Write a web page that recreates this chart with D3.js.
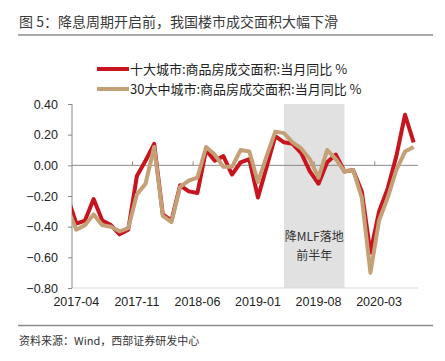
<!DOCTYPE html>
<html>
<head>
<meta charset="utf-8">
<script src="https://cdn.jsdelivr.net/npm/d3@7"></script>
<style>
  body { margin: 0; background: #fff; }
  svg { display: block; }
</style>
</head>
<body>
<div id="chart"></div>
<script>
// months shown on the axis (2017-04 .. 2020-07); one extra month before is clipped at the left edge
var months = d3.timeMonths(new Date(2017, 3, 1), new Date(2020, 7, 1)).map(d3.timeFormat("%Y-%m"));
var prevMonth = "2017-03";

// 十大城市 (red), starting with 2017-03
var ten_city = [-0.21,
  -0.38, -0.36, -0.22, -0.36, -0.39, -0.45, -0.42, -0.07, 0.03, 0.14,
  -0.32, -0.36, -0.13, -0.17, -0.18, 0.10, 0.03, 0.06, -0.06, 0.02,
  0.04, -0.21, -0.01, 0.19, 0.15, 0.14, 0.08, -0.04, -0.12, 0.02,
  0.07, -0.04, -0.03, -0.17, -0.57, -0.30, -0.15, 0.06, 0.33, 0.15];
// 30大中城市 (tan), starting with 2017-03
var thirty_city = [-0.28,
  -0.42, -0.39, -0.32, -0.39, -0.40, -0.43, -0.41, -0.19, -0.12, 0.12,
  -0.33, -0.37, -0.14, -0.10, -0.08, 0.12, 0.07, -0.01, -0.01, 0.10,
  0.09, -0.11, 0.06, 0.22, 0.21, 0.15, 0.11, 0.04, -0.08, 0.10,
  0.04, -0.04, -0.03, -0.21, -0.70, -0.36, -0.21, -0.03, 0.09, 0.12];

var yTicks = [0.4, 0.2, 0, -0.2, -0.4, -0.6, -0.8];
var xLabelEvery = 7;
var shadeFrom = "2019-04", shadeTo = "2019-11";
var shadeText = ["降MLF落地", "前半年"];

var series = [
  {name: "十大城市:商品房成交面积:当月同比 %", values: ten_city, color: "#c8141e"},
  {name: "30大中城市:商品房成交面积:当月同比 %", values: thirty_city, color: "#c4a077"}
];

//sizes
var width = 445, height = 361;
var plot_left = 72, plot_right = 418, plot_top = 104, plot_bottom = 288;
var cjk = "'Noto Sans CJK SC', sans-serif";
var num = "'Liberation Sans', Arial, sans-serif";

var svg = d3.select("#chart").append("svg")
  .attr("width", width).attr("height", height);

//title + separators
svg.append("text")
  .attr("x", 19).attr("y", 27)
  .style("font-family", cjk).style("font-size", "14px").style("fill", "#3a3a3a")
  .text("图 5：降息周期开启前，我国楼市成交面积大幅下滑");
svg.append("line").attr("x1", 18).attr("x2", 433).attr("y1", 35).attr("y2", 35)
  .style("stroke", "#8c8c8c").style("stroke-width", 1.5);
svg.append("line").attr("x1", 18).attr("x2", 433).attr("y1", 325.5).attr("y2", 325.5)
  .style("stroke", "#8c8c8c").style("stroke-width", 1.5);
svg.append("text")
  .attr("x", 19).attr("y", 345)
  .style("font-family", cjk).style("font-size", "11px").style("fill", "#333")
  .text("资料来源：Wind，西部证券研发中心");

//legend
var legend = svg.selectAll(".legend").data(series).enter().append("g")
  .attr("transform", function(d, i){ return "translate(97," + (69 + i*20) + ")"; });
legend.append("line").attr("x1", 0).attr("x2", 32)
  .style("stroke", function(d){ return d.color; }).style("stroke-width", 4);
legend.append("text").attr("x", 33).attr("y", 5)
  .style("font-family", cjk).style("font-size", "13px").style("fill", "#222")
  .text(function(d){ return d.name; });

//scales
var x = d3.scaleLinear().domain([-0.5, months.length - 0.5]).range([plot_left, plot_right]);
var y = d3.scaleLinear().domain([-0.8, 0.4]).range([plot_bottom, plot_top]);
function xOf(m){ return m == prevMonth ? x(-1) : x(months.indexOf(m)); }

//shaded period
svg.append("rect")
  .attr("x", xOf(shadeFrom)).attr("y", y(0.4))
  .attr("width", xOf(shadeTo) - xOf(shadeFrom))
  .attr("height", y(-0.8) - y(0.4))
  .style("fill", "#e1e1e1");
svg.selectAll(".shade-text").data(shadeText).enter().append("text")
  .attr("x", (xOf(shadeFrom) + xOf(shadeTo))/2)
  .attr("y", function(d, i){ return 241 + i*19; })
  .attr("text-anchor", "middle")
  .style("font-family", cjk).style("font-size", "12px").style("fill", "#333")
  .text(function(d){ return d; });

//bottom light line
svg.append("line").attr("x1", plot_left).attr("x2", plot_right).attr("y1", plot_bottom).attr("y2", plot_bottom)
  .style("stroke", "#d9d9d9").style("stroke-width", 1);

//y axis
var yAxis = svg.append("g").attr("transform", "translate(" + plot_left + ",0)")
  .call(d3.axisLeft(y).tickValues(yTicks).tickFormat(d3.format(".2f")).tickSize(4).tickPadding(10));
yAxis.select(".domain").style("stroke", "#888").attr("d", "M0," + plot_top + "V" + plot_bottom);
yAxis.selectAll(".tick line").style("stroke", "#888");
yAxis.selectAll("text").style("font-family", num).style("font-size", "12.5px").style("fill", "#222");

//zero line with ticks every 7 months
svg.append("line").attr("x1", plot_left).attr("x2", plot_right).attr("y1", y(0)).attr("y2", y(0))
  .style("stroke", "#888").style("stroke-width", 1);
var labelIdx = d3.range(0, months.length, xLabelEvery);
svg.selectAll(".xtick").data(labelIdx.slice(1)).enter().append("line")
  .attr("x1", function(d){ return x(d - 0.5); }).attr("x2", function(d){ return x(d - 0.5); })
  .attr("y1", y(0)).attr("y2", y(0) - 4)
  .style("stroke", "#888");
svg.selectAll(".xlabel").data(labelIdx).enter().append("text")
  .attr("x", function(d){ return x(d); }).attr("y", 306)
  .attr("text-anchor", "middle")
  .style("font-family", num).style("font-size", "12.5px").style("fill", "#222")
  .text(function(d){ return months[d]; });

//lines, clipped to plot area
svg.append("clipPath").attr("id", "plot-clip").append("rect")
  .attr("x", plot_left).attr("y", plot_top - 10).attr("width", plot_right - plot_left + 4).attr("height", plot_bottom - plot_top + 20);
var allMonths = [prevMonth].concat(months);
var line = d3.line()
  .x(function(d, i){ return xOf(allMonths[i]); })
  .y(function(d){ return y(d); });
svg.append("g").attr("clip-path", "url(#plot-clip)")
  .selectAll("path").data(series).enter().append("path")
  .attr("d", function(d){ return line(d.values); })
  .style("fill", "none")
  .style("stroke", function(d){ return d.color; })
  .style("stroke-width", 4)
  .style("stroke-linejoin", "round");
</script>
</body>
</html>
